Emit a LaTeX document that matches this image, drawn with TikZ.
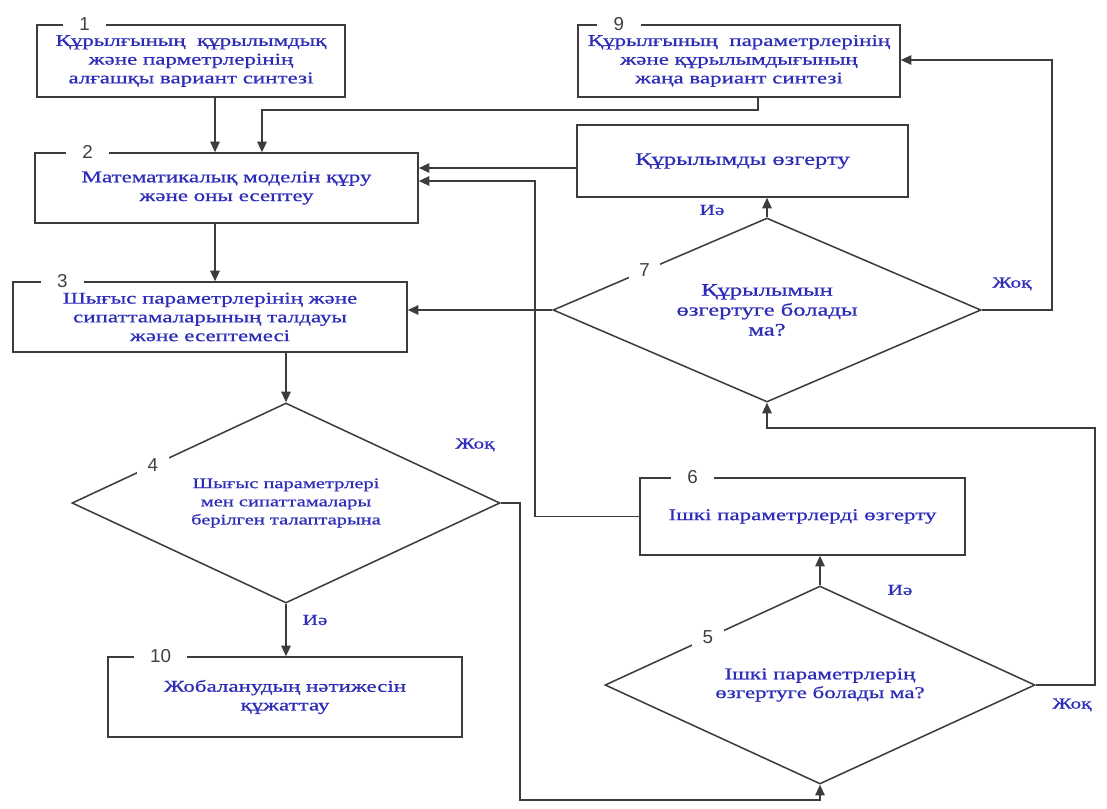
\documentclass[tikz,border=0pt]{standalone}
\usepackage{fontspec}
\newfontfamily\kzfont[FakeStretch=1.4, FakeBold=0.8]{Liberation Serif}
\newfontfamily\numfont{Liberation Sans}
\usetikzlibrary{shapes.geometric, arrows.meta, calc, positioning}
\definecolor{kzblue}{RGB}{45,45,185}
\definecolor{linegray}{RGB}{60,60,60}

\begin{document}
\begin{tikzpicture}[x=0.03cm, y=-0.03cm,
    box/.style={draw=linegray, line width=1.3pt, rectangle, inner sep=0pt, align=center,
        text=kzblue, font=\kzfont\fontsize{14}{16}\selectfont},
    decide/.style={draw=linegray, line width=1.3pt, diamond, aspect=2.3, inner sep=0pt,
        align=center, text=kzblue, font=\kzfont\fontsize{14}{16}\selectfont},
    num/.style={fill=white, inner xsep=14pt, inner ysep=2pt, text=black!75,
        font=\numfont\fontsize{16}{16}\selectfont},
    yn/.style={text=kzblue, font=\kzfont\fontsize{13}{13}\selectfont},
    lin/.style={draw=linegray, line width=1.3pt},
    arr/.style={lin, -{Triangle[length=9pt,width=8pt]}}]
    \useasboundingbox[fill=white] (0,0) rectangle (1107,809);

    % Blocks
    \node[box, minimum width=9.24cm, minimum height=2.16cm] (b1) at (191,61)
        {Құрылғының \ құрылымдық\\ және парметрлерінің\\ алғашқы вариант синтезі};
    \node[box, minimum width=9.66cm, minimum height=2.16cm] (b9) at (739,61)
        {Құрылғының \ параметрлерінің\\ және құрылымдығының\\ жаңа вариант синтезі};
    \node[box, minimum width=11.49cm, minimum height=2.1cm] (b2) at (226.5,188)
        {Математикалық моделін құру\\ және оны есептеу};
    \node[box, minimum width=9.93cm, minimum height=2.16cm,
        font=\kzfont\fontsize{15}{16}\selectfont] (b8) at (742.5,161)
        {Құрылымды өзгерту};
    \node[box, minimum width=11.82cm, minimum height=2.1cm] (b3) at (210,317)
        {Шығыс параметрлерінің және\\ сипаттамаларының талдауы\\ және есептемесі};
    \node[box, minimum width=9.75cm, minimum height=2.31cm] (b6) at (802.5,516.5)
        {Ішкі параметрлерді өзгерту};
    \node[box, minimum width=10.62cm, minimum height=2.4cm] (b10) at (285,697)
        {Жобаланудың нәтижесін\\ құжаттау};

    % Decisions
    \node[decide, minimum width=12.84cm, minimum height=5.52cm,
        font=\kzfont\fontsize{15}{17}\selectfont] (d7) at (767,310)
        {Құрылымын\\ өзгертуге болады\\ ма?};
    \node[decide, minimum width=12.84cm, minimum height=6cm,
        font=\kzfont\fontsize{12.5}{15.5}\selectfont] (d4) at (286,503)
        {Шығыс параметрлері\\ мен сипаттамалары\\ берілген талаптарына};
    \node[decide, minimum width=12.9cm, minimum height=5.94cm] (d5) at (820,685)
        {Ішкі параметрлерің\\ өзгертуге болады ма?};

    % Numbers
    \node[num] (n1) at ([xshift=1.45cm]b1.north west) {1};
    \node[num] (n9) at ([xshift=1.25cm]b9.north west) {9};
    \node[num] (n2) at ([xshift=1.6cm]b2.north west) {2};
    \node[num] (n3) at ([xshift=1.5cm]b3.north west) {3};
    \node[num] (n6) at ([xshift=1.6cm]b6.north west) {6};
    \node[num] (n10) at ([xshift=1.6cm]b10.north west) {10};
    \node[num, inner xsep=9pt] (n7) at ($(d7.west)!0.43!(d7.north)$) {7};
    \node[num, inner xsep=9pt] (n4) at ($(d4.west)!0.38!(d4.north)$) {4};
    \node[num, inner xsep=9pt] (n5) at ($(d5.west)!0.48!(d5.north)$) {5};

    % Bends
    \coordinate (c9) at (262,110);
    \coordinate (c7) at (1052,60);
    \coordinate (c6) at (535,181);
    \coordinate (c4) at (520,800);
    \coordinate (c5) at (1095,428);

    % Connectors
    \draw[arr] (b1.south -| 215,0) -- (b2.north -| 215,0);
    \draw[arr] (b9.south -| 758,0) |- (c9) -- (b2.north -| c9);
    \draw[arr] (b8.west |- 0,168) -- (b2.east |- 0,168);
    \draw[arr] (b6.west) -| (c6) -- (b2.east |- c6);
    \draw[arr] (b2.south -| 215,0) -- (b3.north -| 215,0);
    \draw[arr] (d7.west) -- (b3.east |- d7.west);
    \draw[arr] (d7.north) -- (b8.south -| d7.north);
    \draw[arr] (d7.east) -| (c7) -- (b9.east |- c7);
    \draw[arr] (b3.south -| d4.north) -- (d4.north);
    \draw[arr] (d4.south) -- (b10.north -| d4.south);
    \draw[arr] (d4.east) -| (c4) -| (d5.south);
    \draw[arr] (d5.north) -- (b6.south -| d5.north);
    \draw[arr] (d5.east) -| (c5) -| (d7.south);

    % Yes / no
    \node[yn] (y7) at (712,210) {Иә};
    \node[yn] (x7) at (1012,284) {Жоқ};
    \node[yn] (x4) at (475,445) {Жоқ};
    \node[yn] (y4) at (315,620) {Иә};
    \node[yn] (y5) at (900,590) {Иә};
    \node[yn] (x5) at (1072,705) {Жоқ};
\end{tikzpicture}
\end{document}
